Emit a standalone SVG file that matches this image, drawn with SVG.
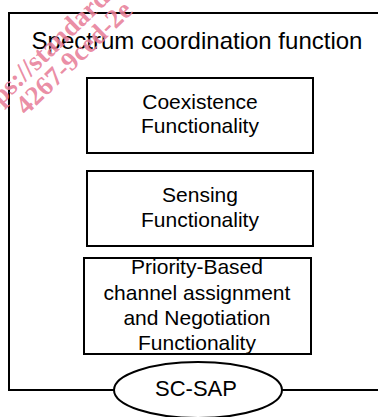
<svg xmlns="http://www.w3.org/2000/svg" width="378" height="417" viewBox="0 0 378 417">
<style>
.box{fill:#fff;stroke:#000;stroke-width:2}
.t{font-family:"Liberation Sans",Arial,sans-serif;font-size:21px;fill:#000;text-anchor:middle}
.wm{font-family:"Liberation Serif","Times New Roman",serif;font-weight:bold;font-size:27px;fill:#e8809a;fill-opacity:0.9}
</style>
<rect width="378" height="417" fill="#fff"/>
<g id="outer">
<rect x="9" y="13" width="390" height="377" fill="none" stroke="#000" stroke-width="2"/>
<text class="t" x="197" y="49" style="font-size:24px">Spectrum coordination function</text>
</g>
<g id="connectors"></g>
<g id="coexistence">
<rect class="box" x="87" y="78" width="226" height="75"/>
<text class="t" x="200" y="109">Coexistence</text>
<text class="t" x="200" y="133">Functionality</text>
</g>
<g id="sensing">
<rect class="box" x="87" y="171" width="226" height="75"/>
<text class="t" x="200" y="202">Sensing</text>
<text class="t" x="200" y="227">Functionality</text>
</g>
<g id="priority">
<rect class="box" x="84" y="258" width="227" height="96"/>
<text class="t" x="197" y="274">Priority-Based</text>
<text class="t" x="197" y="300">channel assignment</text>
<text class="t" x="197" y="325">and Negotiation</text>
<text class="t" x="197" y="350">Functionality</text>
</g>
<g id="sc-sap">
<ellipse class="box" cx="198" cy="390" rx="84" ry="28"/>
<text class="t" x="196" y="396" style="font-size:22px">SC-SAP</text>
</g>
<g id="watermark">
<text class="wm" transform="translate(-23,129) rotate(-44)">https://standards</text>
<text class="wm" transform="translate(26,116) rotate(-44)">4267-9ced-2e</text>
</g>
</svg>
